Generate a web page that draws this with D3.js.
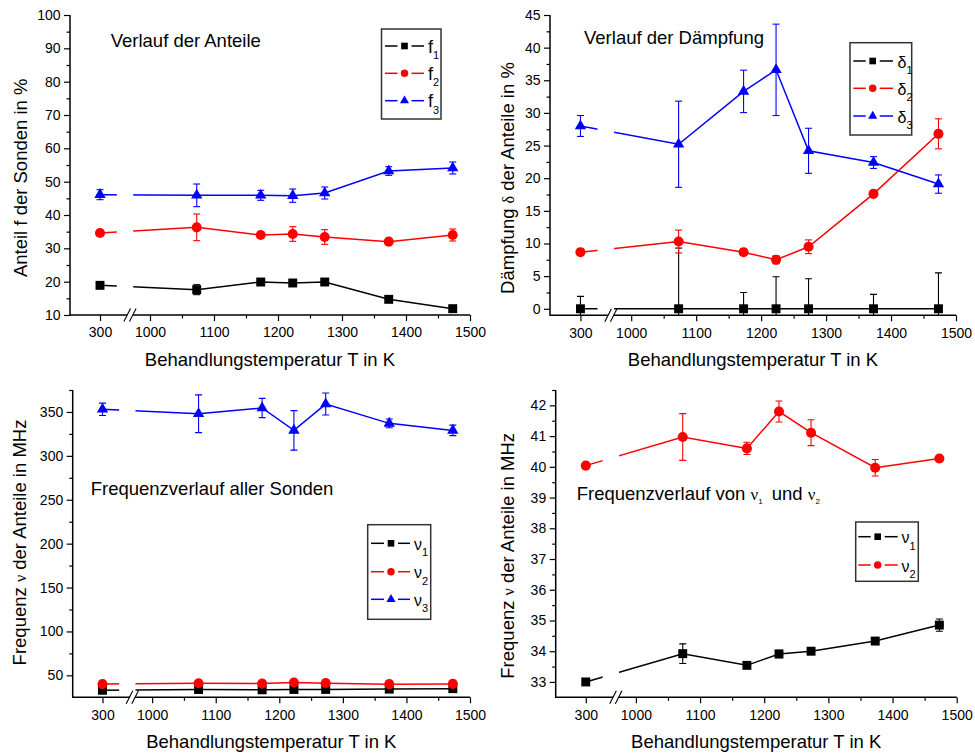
<!DOCTYPE html>
<html>
<head>
<meta charset="utf-8">
<script src="https://d3js.org/d3.v7.min.js"></script>
<style>
  body { margin: 0; background: #fff; }
  svg text { font-family: "Liberation Sans", Arial, sans-serif; fill: #000; }
</style>
</head>
<body>
<svg id="chart" width="975" height="756"></svg>
<script>
// anneal temperatures (x values) and axis ticks
const temps = [300, 1073, 1173, 1223, 1273, 1373, 1473];
const xTicks = [300, 1000, 1100, 1200, 1300, 1400, 1500];
const xMinor = [1050, 1150, 1250, 1350, 1450];

// Anteile f in %
const f1 = [18.9, 17.6, 19.9, 19.6, 19.9, 14.7, 11.9];
const f1Err = [0.8, 1.5, 0.8, 0.8, 0.8, 0.8, 0.8];
const f2 = [34.6, 36.3, 34.0, 34.3, 33.4, 32.0, 34.0];
const f2Err = [0.8, 4.0, 0.8, 2.2, 2.2, 0.8, 1.8];
const f3 = [46.1, 45.9, 45.9, 45.8, 46.6, 53.2, 54.1];
const f3Err = [1.5, 3.4, 1.5, 2.0, 1.8, 1.3, 1.8];

// Daempfung delta in %
const delta1 = [0, 0, 0, 0, 0, 0, 0];
const delta1Err = [1.9, 9.3, 2.5, 4.9, 4.6, 2.2, 5.5];
const delta2 = [8.67, 10.3, 8.67, 7.5, 9.5, 17.6, 26.8];
const delta2Err = [0.5, 1.75, 0.5, 0.6, 1.05, 0.5, 2.3];
const delta3 = [28.0, 25.2, 33.3, 36.6, 24.2, 22.4, 19.1];
const delta3Err = [1.6, 6.6, 3.25, 7.0, 3.45, 0.9, 1.4];

// Frequenzen nu in MHz
const nu1 = [33.0, 33.92, 33.54, 33.91, 34.0, 34.33, 34.85];
const nu1Err = [0.1, 0.32, 0.1, 0.12, 0.1, 0.1, 0.2];
const nu2 = [40.04, 40.97, 40.6, 41.8, 41.11, 39.97, 40.27];
const nu2Err = [0.1, 0.76, 0.2, 0.34, 0.42, 0.27, 0.1];
const nu3 = [353, 348, 354.5, 329, 359, 337, 329];
const nu3Err = [7, 21.5, 11, 22.5, 12.5, 5, 6];

// y tick labels
const yTicksF = [10, 20, 30, 40, 50, 60, 70, 80, 90, 100];
const yMinorF = [15, 25, 35, 45, 55, 65, 75, 85, 95];
const yTicksD = [0, 5, 10, 15, 20, 25, 30, 35, 40, 45];
const yMinorD = [2.5, 7.5, 12.5, 17.5, 22.5, 27.5, 32.5, 37.5, 42.5];
const yTicksNu = [50, 100, 150, 200, 250, 300, 350];
const yMinorNu = [75, 125, 175, 225, 275, 325, 375];
const yTicksNu12 = [33, 34, 35, 36, 37, 38, 39, 40, 41, 42];
const yMinorNu12 = [33.5, 34.5, 35.5, 36.5, 37.5, 38.5, 39.5, 40.5, 41.5, 42.5];

const svg = d3.select('#chart');

// broken x axis: 300 sits left of the break, 1000..1500 right of it
const xBreakDomain = [253.125, 346.875, 968.75, 1500];
const xBreakFrac = [0, 0.15, 0.15, 1];
const gapFrac = [0.117, 0.158];

const BLACK = '#000000', RED = '#ff0000', BLUE = '#0000ff';
const shapes = {
  square: d3.symbolSquare,
  circle: d3.symbolCircle,
  triangle: d3.symbolTriangle
};
const markSize = {square: 80, circle: 80, triangle: 56};
const legSize = {square: 44, circle: 44, triangle: 36};

// writes a text made of plain parts, greek letters and subscripts
function richText(sel, parts) {
  let afterSub = false;
  parts.forEach(p => {
    const t = sel.append('tspan').text(p.t);
    if (p.greek) t.style('font-family', '"Liberation Serif", "Times New Roman", serif').style('font-size', p.size || null);
    if (p.sub) {
      t.attr('dy', p.dy).style('font-size', p.size + 'px');
      afterSub = p.dy;
    } else if (afterSub) {
      t.attr('dy', -afterSub);
      afterSub = false;
    }
    if (p.dx) t.attr('dx', p.dx);
  });
}

function drawPanel(p) {
  const g = svg.append('g');
  const W = p.right - p.left;
  const x = d3.scaleLinear().domain(xBreakDomain).range(xBreakFrac.map(f => p.left + f * W));
  const y = d3.scaleLinear().domain(p.yDomain).range([p.bottom, p.top]);

  const id = p.id;
  const defs = g.append('defs');
  // clip for the data lines: gap at the axis break
  const cl = defs.append('clipPath').attr('id', 'gap' + id);
  cl.append('rect').attr('x', p.left - 20).attr('y', 0).attr('width', gapFrac[0] * W + 20).attr('height', 756);
  cl.append('rect').attr('x', p.left + gapFrac[1] * W).attr('y', 0).attr('width', W * 2).attr('height', 756);
  // clip for error bars: stay inside the plot area
  defs.append('clipPath').attr('id', 'area' + id)
    .append('rect').attr('x', p.left).attr('y', p.top - 20).attr('width', W + 20).attr('height', p.bottom - p.top + 20);

  // axes
  g.append('g').attr('transform', `translate(0,${p.bottom})`)
    .call(d3.axisBottom(x).tickValues(xTicks).tickSize(6).tickPadding(6.5).tickFormat(d3.format('d')));
  g.append('g').attr('transform', `translate(0,${p.bottom})`)
    .call(d3.axisBottom(x).tickValues(xMinor).tickSize(3.5).tickFormat(''));
  g.append('g').attr('transform', `translate(${p.left},0)`)
    .call(d3.axisLeft(y).tickValues(p.yTicks).tickSize(6).tickPadding(3.5).tickFormat(d3.format('d')));
  g.append('g').attr('transform', `translate(${p.left},0)`)
    .call(d3.axisLeft(y).tickValues(p.yMinor).tickSize(3.5).tickFormat(''));
  g.selectAll('.domain').remove();
  g.selectAll('.tick line').attr('stroke', '#000').attr('stroke-width', 1.2);
  g.selectAll('.tick text').style('font-size', '14px').attr('fill', '#000');

  g.append('line').attr('x1', p.left).attr('x2', p.left).attr('y1', p.top).attr('y2', p.bottom + 0.75)
    .attr('stroke', '#000').attr('stroke-width', 1.5);
  g.append('line').attr('x1', p.left).attr('x2', p.right).attr('y1', p.bottom).attr('y2', p.bottom)
    .attr('stroke', '#000').attr('stroke-width', 1.5);

  // break marks //
  const bx = p.left + xBreakFrac[1] * W;
  g.append('polygon')
    .attr('points', [[bx - 5.5, p.bottom + 6], [bx + 0.5, p.bottom - 6], [bx + 5.5, p.bottom - 6], [bx - 0.5, p.bottom + 6]].join(' '))
    .attr('fill', '#fff');
  [-2.8, 2.8].forEach(o => {
    g.append('line')
      .attr('x1', bx + o - 3.3).attr('y1', p.bottom + 6.5)
      .attr('x2', bx + o + 3.3).attr('y2', p.bottom - 6.5)
      .attr('stroke', '#000').attr('stroke-width', 1.1);
  });

  // axis titles
  g.append('text')
    .attr('x', p.left + W / 2).attr('y', p.bottom + 51)
    .attr('text-anchor', 'middle').style('font-size', '18.5px')
    .text('Behandlungstemperatur T in K');
  const yl = g.append('text')
    .attr('transform', `translate(${p.yLabelX},${p.yLabelY}) rotate(-90)`)
    .attr('text-anchor', 'middle').style('font-size', '18.5px');
  richText(yl, p.yLabel);

  // panel heading
  const tt = g.append('text').attr('x', p.titleX).attr('y', p.titleY).style('font-size', '18.5px');
  richText(tt, p.title);

  // series
  p.series.forEach(s => {
    const pts = temps.map((t, i) => ({x: x(t), y: y(s.vals[i]), lo: y(s.vals[i] - s.errs[i]), hi: y(s.vals[i] + s.errs[i])}));
    const eb = g.append('g').attr('clip-path', `url(#area${id})`).attr('stroke', s.color).attr('stroke-width', 1.1);
    pts.forEach(d => {
      eb.append('line').attr('x1', d.x).attr('x2', d.x).attr('y1', d.lo).attr('y2', d.hi);
      eb.append('line').attr('x1', d.x - 3.5).attr('x2', d.x + 3.5).attr('y1', d.lo).attr('y2', d.lo);
      eb.append('line').attr('x1', d.x - 3.5).attr('x2', d.x + 3.5).attr('y1', d.hi).attr('y2', d.hi);
    });
    g.append('path')
      .datum(pts)
      .attr('clip-path', `url(#gap${id})`)
      .attr('d', d3.line().x(d => d.x).y(d => d.y))
      .attr('fill', 'none').attr('stroke', s.color).attr('stroke-width', 1.5);
    g.selectAll(null).data(pts).join('path')
      .attr('transform', d => `translate(${d.x},${d.y})`)
      .attr('d', d3.symbol(shapes[s.shape], markSize[s.shape]))
      .attr('fill', s.color);
  });

  // legend
  const L = p.legend;
  g.append('rect').attr('x', L.x).attr('y', L.y).attr('width', L.w).attr('height', L.h)
    .attr('fill', '#fff').attr('stroke', '#333').attr('stroke-width', 1.5);
  p.series.forEach((s, i) => {
    const ey = L.rows[i];
    g.append('line').attr('x1', L.x0).attr('x2', L.mx - 7).attr('y1', ey).attr('y2', ey)
      .attr('stroke', s.color).attr('stroke-width', 1.5);
    g.append('line').attr('x1', L.mx + 7).attr('x2', L.x1).attr('y1', ey).attr('y2', ey)
      .attr('stroke', s.color).attr('stroke-width', 1.5);
    g.append('path').attr('transform', `translate(${L.mx},${ey})`)
      .attr('d', d3.symbol(shapes[s.shape], legSize[s.shape])).attr('fill', s.color);
    const lt = g.append('text').attr('x', L.tx).attr('y', ey + 6.5).style('font-size', '18px');
    lt.append('tspan').text(s.name).style('font-size', s.nameSize || '18px');
    lt.append('tspan').text(s.sub).attr('dy', 6.5).style('font-size', '11px');
  });
}

drawPanel({
  id: 1, left: 70, right: 470, top: 15, bottom: 315,
  yDomain: [10, 100], yTicks: yTicksF, yMinor: yMinorF,
  yLabel: [{t: 'Anteil f der Sonden in %'}], yLabelX: 27.3, yLabelY: 177.8,
  title: [{t: 'Verlauf der Anteile'}], titleX: 110.7, titleY: 47,
  legend: {x: 381.5, y: 29, w: 59.5, h: 90, rows: [46, 73.3, 100.7], x0: 385, x1: 424, mx: 404.5, tx: 428},
  series: [
    {vals: f1, errs: f1Err, color: BLACK, shape: 'square', name: 'f', sub: '1'},
    {vals: f2, errs: f2Err, color: RED, shape: 'circle', name: 'f', sub: '2'},
    {vals: f3, errs: f3Err, color: BLUE, shape: 'triangle', name: 'f', sub: '3'}
  ]
});

drawPanel({
  id: 2, left: 550, right: 956, top: 15, bottom: 315.3,
  yDomain: [-1, 45], yTicks: yTicksD, yMinor: yMinorD,
  yLabel: [{t: 'Dämpfung '}, {t: 'δ', greek: true, size: '16px'}, {t: ' der Anteile in %'}], yLabelX: 513.8, yLabelY: 178,
  title: [{t: 'Verlauf der Dämpfung'}], titleX: 584, titleY: 44,
  legend: {x: 850, y: 42.7, w: 61.7, h: 92.3, rows: [61, 88.3, 116], x0: 853.3, x1: 893, mx: 872.7, tx: 897.5},
  series: [
    {vals: delta1, errs: delta1Err, color: BLACK, shape: 'square', name: 'δ', sub: '1', nameSize: '16px'},
    {vals: delta2, errs: delta2Err, color: RED, shape: 'circle', name: 'δ', sub: '2', nameSize: '16px'},
    {vals: delta3, errs: delta3Err, color: BLUE, shape: 'triangle', name: 'δ', sub: '3', nameSize: '16px'}
  ]
});

drawPanel({
  id: 3, left: 72.7, right: 470, top: 390, bottom: 697.3,
  yDomain: [25, 375], yTicks: yTicksNu, yMinor: yMinorNu,
  yLabel: [{t: 'Frequenz '}, {t: 'ν', greek: true, size: '16px'}, {t: ' der Anteile in MHz'}], yLabelX: 25.5, yLabelY: 542.5,
  title: [{t: 'Frequenzverlauf aller Sonden'}], titleX: 90.7, titleY: 495.3,
  legend: {x: 367.7, y: 524.7, w: 63, h: 94.6, rows: [543.3, 571.7, 599.3], x0: 371, x1: 410, mx: 391, tx: 414},
  series: [
    {vals: nu1, errs: nu1Err, color: BLACK, shape: 'square', name: 'ν', sub: '1', nameSize: '16px'},
    {vals: nu2, errs: nu2Err, color: RED, shape: 'circle', name: 'ν', sub: '2', nameSize: '16px'},
    {vals: nu3, errs: nu3Err, color: BLUE, shape: 'triangle', name: 'ν', sub: '3', nameSize: '16px'}
  ]
});

drawPanel({
  id: 4, left: 555.7, right: 956.7, top: 390, bottom: 697.3,
  yDomain: [32.5, 42.5], yTicks: yTicksNu12, yMinor: yMinorNu12,
  yLabel: [{t: 'Frequenz '}, {t: 'ν', greek: true, size: '16px'}, {t: ' der Anteile in MHz'}], yLabelX: 513.8, yLabelY: 555.8,
  title: [
    {t: 'Frequenzverlauf von '},
    {t: 'ν', greek: true, size: '17px'},
    {t: '1', sub: true, dy: 4, size: 8},
    {t: ' und ', dx: 4},
    {t: 'ν', greek: true, size: '17px'},
    {t: '2', sub: true, dy: 4, size: 8}
  ],
  titleX: 576.7, titleY: 500,
  legend: {x: 855.7, y: 522, w: 62.6, h: 59.3, rows: [536.7, 565], x0: 858.3, x1: 897.7, mx: 877.7, tx: 901.5},
  series: [
    {vals: nu1, errs: nu1Err, color: BLACK, shape: 'square', name: 'ν', sub: '1', nameSize: '16px'},
    {vals: nu2, errs: nu2Err, color: RED, shape: 'circle', name: 'ν', sub: '2', nameSize: '16px'}
  ]
});
</script>
</body>
</html>
